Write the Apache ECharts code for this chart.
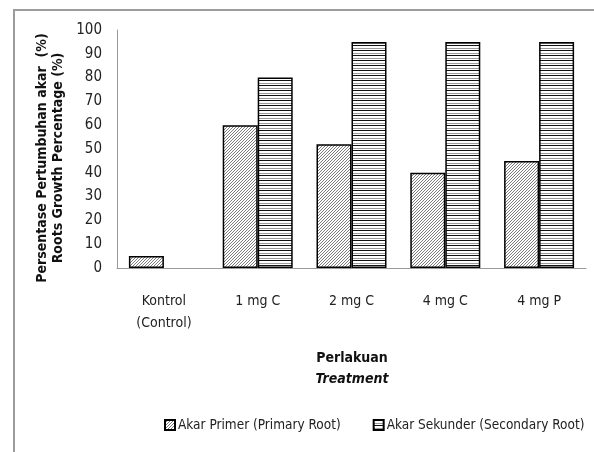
<!DOCTYPE html>
<html>
<head>
<meta charset="utf-8">
<script src="https://cdn.jsdelivr.net/npm/echarts@6/dist/echarts.min.js"></script>
<style>
html,body{margin:0;padding:0;background:#fff;}
#chart{width:594px;height:452px;}
</style>
</head>
<body>
<div id="chart"></div>
<script>
var categories = ['Kontrol\n(Control)', '1 mg C', '2 mg C', '4 mg C', '4 mg P'];
var primaryRoot = [5, 60, 52, 40, 45];
var secondaryRoot = [0, 80, 95, 95, 95];
var seriesNames = ['Akar Primer (Primary Root)', 'Akar Sekunder (Secondary Root)'];
var yTicks = { min: 0, max: 100, interval: 10 };

var FONT = "'DejaVu Sans Condensed', 'Liberation Sans Narrow', 'Liberation Sans', sans-serif";

function diagPattern() {
  var c = document.createElement('canvas');
  c.width = 3; c.height = 3;
  var g = c.getContext('2d');
  g.fillStyle = '#ffffff'; g.fillRect(0, 0, 3, 3);
  g.fillStyle = '#7c7c7c';
  g.fillRect(0, 2, 1, 1); g.fillRect(1, 1, 1, 1); g.fillRect(2, 0, 1, 1);
  return c;
}
function stripePattern() {
  var c = document.createElement('canvas');
  c.width = 4; c.height = 5;
  var g = c.getContext('2d');
  g.fillStyle = '#ffffff'; g.fillRect(0, 0, 4, 5);
  g.fillStyle = '#111111'; g.fillRect(0, 0, 4, 1);
  g.fillStyle = '#9a9a9a'; g.fillRect(0, 3, 4, 1);
  return c;
}
function barData(values) {
  return values.map(function (v) {
    return v === 0 ? { value: v, itemStyle: { borderWidth: 0 } } : v;
  });
}

var chart = echarts.init(document.getElementById('chart'), null, { renderer: 'canvas' });
chart.setOption({
  animation: false,
  backgroundColor: '#fff',
  textStyle: { fontFamily: FONT },
  grid: { left: 117, right: 8, top: 30, bottom: 184, containLabel: false },
  legend: {
    data: seriesNames,
    left: 159, top: 413, width: 440,
    icon: 'rect',
    itemWidth: 10, itemHeight: 10, itemGap: 32,
    textStyle: { fontFamily: FONT, fontSize: 13.5, color: '#222', padding: [0, 0, 0, -2] }
  },
  xAxis: {
    type: 'category',
    data: categories,
    axisLine: { show: true, lineStyle: { color: '#9a9a9a', width: 1 } },
    axisTick: { show: false },
    axisLabel: { margin: 22, fontSize: 14, lineHeight: 22, color: '#222', fontFamily: FONT },
    splitLine: { show: false }
  },
  yAxis: {
    type: 'value',
    min: yTicks.min, max: yTicks.max, interval: yTicks.interval,
    axisLine: { show: true, lineStyle: { color: '#9a9a9a', width: 1 } },
    axisTick: { show: false },
    axisLabel: { margin: 15, fontSize: 15, color: '#222', fontFamily: FONT },
    splitLine: { show: false }
  },
  series: [
    {
      name: seriesNames[0], type: 'bar', data: barData(primaryRoot),
      barWidth: 35, barGap: '0%',
      itemStyle: { color: { image: diagPattern(), repeat: 'repeat' }, borderColor: '#000', borderWidth: 1.5 }
    },
    {
      name: seriesNames[1], type: 'bar', data: barData(secondaryRoot),
      barWidth: 35, barGap: '0%',
      itemStyle: { color: { image: stripePattern(), repeat: 'repeat' }, borderColor: '#000', borderWidth: 1.5 }
    }
  ],
  graphic: [
    { type: 'polyline', silent: true, shape: { points: [[14, 452], [14, 10], [594, 10]] },
      style: { stroke: '#9c9c9c', lineWidth: 2, fill: null } },
    { type: 'text', x: 50, y: 158, rotation: Math.PI / 2, silent: true,
      style: { text: 'Persentase Pertumbuhan akar  (%)\nRoots Growth Percentage (%)', align: 'center', verticalAlign: 'middle',
        font: 'bold 14px ' + FONT, fill: '#111', lineHeight: 16 } },
    { type: 'text', x: 352, y: 358, silent: true,
      style: { text: 'Perlakuan', align: 'center', verticalAlign: 'middle', font: 'bold 14px ' + FONT, fill: '#111' } },
    { type: 'text', x: 352, y: 379, silent: true,
      style: { text: 'Treatment', align: 'center', verticalAlign: 'middle', font: 'italic bold 14px ' + FONT, fill: '#111' } }
  ]
});
</script>
</body>
</html>
